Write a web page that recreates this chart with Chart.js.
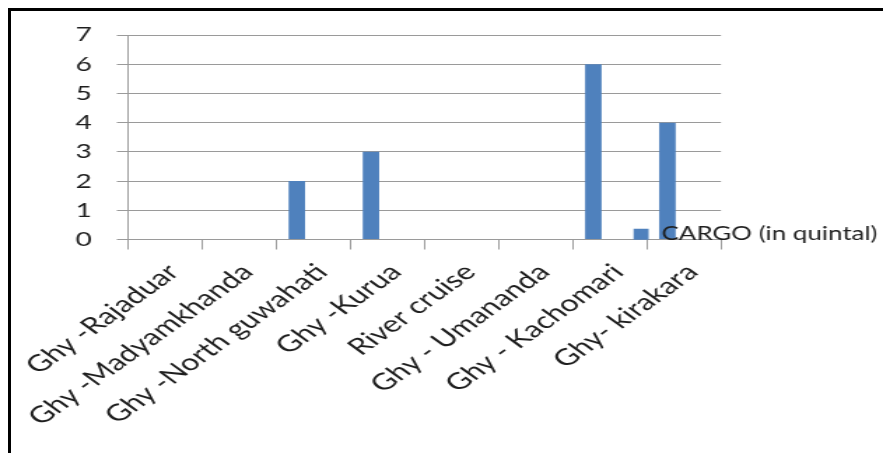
<!DOCTYPE html>
<html>
<head>
<meta charset="utf-8">
<script src="https://cdn.jsdelivr.net/npm/chart.js@4/dist/chart.umd.min.js"></script>
<style>
  html, body { margin: 0; padding: 0; background: #fff; width: 883px; height: 453px; overflow: hidden; }
  /* chart is laid out on a narrower canvas and widened to the full page */
  #stage { position: absolute; left: 0; top: 0; width: 631px; height: 453px;
           transform: scaleX(1.39937); transform-origin: 0 0; }
  #frame { position: absolute; left: 8px; top: 8px; width: 875px; height: 445px;
           border-top: 3px solid #000; border-left: 3px solid #000;
           box-sizing: border-box; pointer-events: none; }
</style>
</head>
<body>
<div id="stage"><canvas id="c" width="631" height="453"></canvas></div>
<div id="frame"></div>
<script>
// Routes on the category axis
const routes = [
  'Ghy -Rajaduar',
  'Ghy -Madyamkhanda',
  'Ghy -North guwahati',
  'Ghy -Kurua',
  'River cruise',
  'Ghy - Umananda',
  'Ghy - Kachomari',
  'Ghy- kirakara'
];

// Cargo carried on each route (quintal)
const cargoQuintal = [0, 0, 2, 3, 0, 0, 6, 4];

// Two further series of the workbook are empty; they still take their slots in each group
const emptySeriesB = [null, null, null, null, null, null, null, null];
const emptySeriesC = [null, null, null, null, null, null, null, null];

// Value axis
const yMin = 0;
const yMax = 7;
const yStep = 1;

const FONT = 'Lato, "Liberation Sans", sans-serif';
const TEXT = '#1e1e1e';
const GRID = '#9a9a9a';

// Legend sits over the lower right of the plot, above the bars
const legendPlacer = {
  id: 'legendPlacer',
  beforeLayout(chart) {
    const lg = chart.legend;
    if (lg && !lg._onTop) {
      lg._onTop = true;
      lg._layers = () => [{ z: 1, draw: (area) => lg.draw(area) }];
    }
  },
  afterLayout(chart) {
    const lg = chart.legend;
    if (!lg) return;
    const w = lg.width, h = lg.height;
    lg.left = 452.5;
    lg.top = 225;
    lg.right = lg.left + w;
    lg.bottom = lg.top + h;
  }
};

new Chart(document.getElementById('c'), {
  type: 'bar',
  data: {
    labels: routes,
    datasets: [
      { label: 'CARGO (in quintal)', data: cargoQuintal, backgroundColor: '#4F81BD',
        categoryPercentage: 2 / 3, barPercentage: 1 },
      { label: '', data: emptySeriesB, backgroundColor: '#C0504D',
        categoryPercentage: 2 / 3, barPercentage: 1 },
      { label: '', data: emptySeriesC, backgroundColor: '#9BBB59',
        categoryPercentage: 2 / 3, barPercentage: 1 }
    ]
  },
  options: {
    responsive: false,
    animation: false,
    devicePixelRatio: 1,
    layout: { padding: { left: 0, top: 35, right: 115.8, bottom: 0 } },
    plugins: {
      legend: {
        position: 'chartArea',
        align: 'start',
        labels: {
          boxWidth: 11,
          boxHeight: 11,
          padding: 0,
          color: TEXT,
          font: { family: FONT, size: 18.5 },
          filter: (item) => item.text !== ''
        }
      },
      tooltip: { enabled: false }
    },
    scales: {
      x: {
        grid: { drawOnChartArea: false, drawTicks: true, tickLength: 10, color: GRID, offset: true },
        border: { color: GRID },
        ticks: {
          autoSkip: false, minRotation: 45, maxRotation: 45, padding: 9, labelOffset: 6,
          color: TEXT, font: { family: FONT, size: 23 }
        },
        afterFit: (s) => { s.height = 213.5; }
      },
      y: {
        min: yMin,
        max: yMax,
        grid: { color: GRID, tickLength: 8 },
        border: { color: GRID },
        ticks: { stepSize: yStep, padding: 18, color: TEXT, font: { family: FONT, size: 20 } },
        afterFit: (s) => { s.width = 91.5; }
      }
    }
  },
  plugins: [legendPlacer]
});
</script>
</body>
</html>
